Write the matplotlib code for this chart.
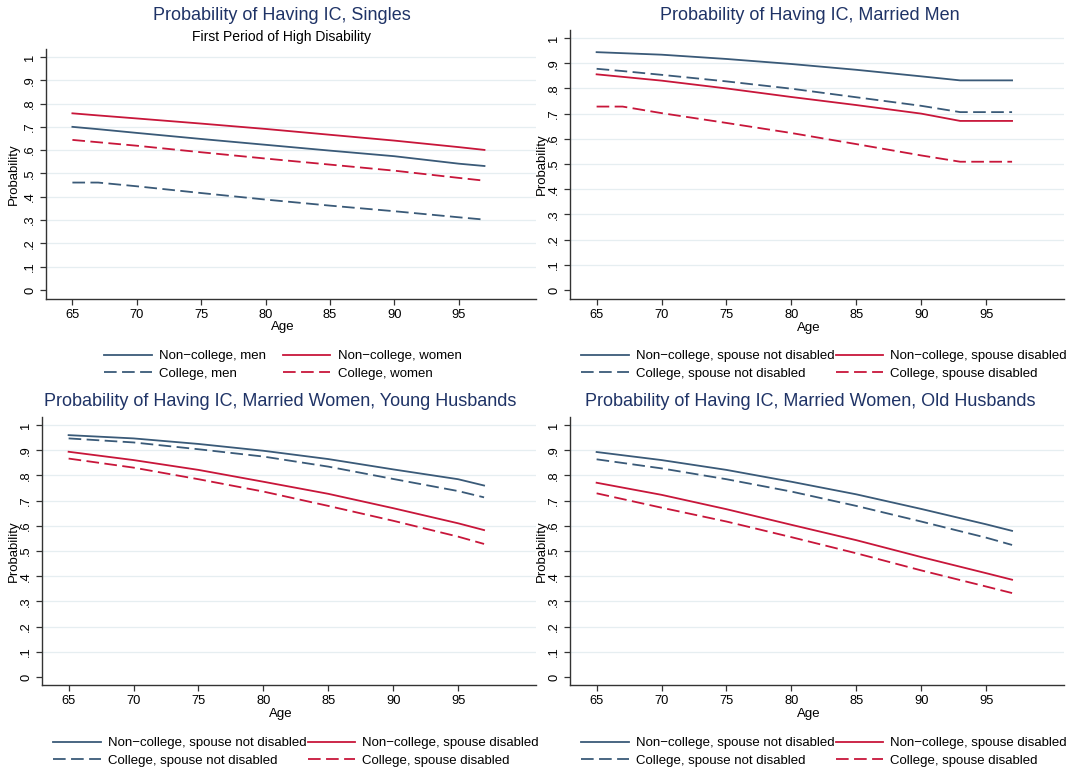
import matplotlib
matplotlib.use("Agg")
import matplotlib.pyplot as plt

plt.rcParams['font.family'] = ['Liberation Sans', 'DejaVu Sans']

NAVY = '#3a5a78'
RED = '#c8163a'
TITLE_C = '#1f3366'

# ---- data ----
ages_singles = [65, 67, 70, 75, 80, 85, 90, 95, 97]
singles_nc_men = [0.700, 0.690, 0.674, 0.648, 0.623, 0.598, 0.574, 0.542, 0.532]
singles_nc_women = [0.758, 0.749, 0.736, 0.714, 0.691, 0.666, 0.641, 0.613, 0.601]
singles_c_men = [0.461, 0.461, 0.445, 0.416, 0.388, 0.362, 0.338, 0.312, 0.302]
singles_c_women = [0.644, 0.634, 0.619, 0.591, 0.564, 0.538, 0.512, 0.481, 0.469]

ages_men = [65, 67, 70, 75, 80, 85, 90, 93, 95, 97]
men_nc_notdis = [0.944, 0.940, 0.934, 0.917, 0.897, 0.874, 0.848, 0.832, 0.832, 0.832]
men_nc_dis = [0.856, 0.846, 0.831, 0.800, 0.766, 0.734, 0.700, 0.671, 0.671, 0.671]
men_c_notdis = [0.878, 0.869, 0.854, 0.828, 0.799, 0.765, 0.731, 0.706, 0.706, 0.706]
men_c_dis = [0.728, 0.728, 0.702, 0.663, 0.623, 0.579, 0.534, 0.509, 0.509, 0.509]

ages_women = [65, 70, 75, 80, 85, 90, 95, 97]
young_nc_notdis = [0.960, 0.947, 0.925, 0.898, 0.865, 0.824, 0.785, 0.760]
young_nc_dis = [0.894, 0.861, 0.822, 0.775, 0.727, 0.670, 0.610, 0.583]
young_c_notdis = [0.947, 0.931, 0.904, 0.875, 0.835, 0.786, 0.738, 0.713]
young_c_dis = [0.867, 0.831, 0.785, 0.736, 0.679, 0.620, 0.557, 0.528]

old_nc_notdis = [0.893, 0.861, 0.822, 0.775, 0.725, 0.667, 0.606, 0.580]
old_nc_dis = [0.771, 0.723, 0.666, 0.604, 0.543, 0.476, 0.412, 0.386]
old_c_notdis = [0.864, 0.828, 0.785, 0.736, 0.679, 0.617, 0.553, 0.524]
old_c_dis = [0.729, 0.672, 0.617, 0.555, 0.491, 0.423, 0.359, 0.333]

xticks = [65, 70, 75, 80, 85, 90, 95]
yticks = [0, .1, .2, .3, .4, .5, .6, .7, .8, .9, 1]
ytick_labels = ['0', '.1', '.2', '.3', '.4', '.5', '.6', '.7', '.8', '.9', '1']

labels_singles = ['Non\u2212college, men', 'Non\u2212college, women',
                  'College, men', 'College, women']
labels_married = ['Non\u2212college, spouse not disabled', 'Non\u2212college, spouse disabled',
                  'College, spouse not disabled', 'College, spouse disabled']

W, H = 1068, 771
fig = plt.figure(figsize=(W / 100, H / 100), dpi=100)


def px_axes(l, t, r, b):
    return fig.add_axes([l / W, 1 - b / H, (r - l) / W, (b - t) / H])


def style(ax, ylo, yhi):
    ax.set_xlim(62.95, 101)
    ax.set_ylim(ylo, yhi)
    for s in ['top', 'right']:
        ax.spines[s].set_visible(False)
    for s in ['left', 'bottom']:
        ax.spines[s].set_color('#333333')
        ax.spines[s].set_linewidth(1.0)
    ax.set_xticks(xticks)
    ax.set_yticks(yticks)
    ax.set_yticklabels(ytick_labels, rotation=90, va='center')
    ax.tick_params(axis='both', length=4, width=0.9, color='#333333',
                   labelsize=9.3, pad=3)
    for y in yticks[1:]:
        ax.axhline(y, color='#e6eef1', lw=0.9, zorder=0)
    ax.set_xlabel('Age', fontsize=9.5)
    ax.set_ylabel('Probability', fontsize=9.5)


def draw(ax, ages, series, labels, colspace, anchor):
    styles = [(NAVY, '-'), (RED, '-'), (NAVY, '--'), (RED, '--')]
    handles = []
    for vals, (c, ls), lab in zip(series, styles, labels):
        if ls == '--':
            h, = ax.plot(ages, vals, color=c, lw=1.3, dashes=(7, 3), label=lab)
        else:
            h, = ax.plot(ages, vals, color=c, lw=1.3, label=lab)
        handles.append(h)
    order = [handles[0], handles[2], handles[1], handles[3]]
    fig.legend(handles=order, labels=[h.get_label() for h in order], ncol=2,
               loc='upper left', bbox_to_anchor=(anchor[0] / W, 1 - anchor[1] / H),
               frameon=False, fontsize=9.5, handlelength=3.6, handletextpad=0.55,
               columnspacing=colspace, labelspacing=0.42, borderpad=0, borderaxespad=0)


# top-left: singles
ax1 = px_axes(46, 49, 536, 299)
style(ax1, -0.0386, 1.034)
draw(ax1, ages_singles, [singles_nc_men, singles_nc_women, singles_c_men, singles_c_women],
     labels_singles, 1.3, (104, 350))
ax1.yaxis.set_label_coords(-0.053, 0.5)
ax1.xaxis.set_label_coords(0.483, -0.09)

# top-right: married men
ax2 = px_axes(570, 30, 1064, 299)
style(ax2, -0.036, 1.032)
draw(ax2, ages_men, [men_nc_notdis, men_nc_dis, men_c_notdis, men_c_dis],
     labels_married, 0.1, (581, 350))
ax2.yaxis.set_label_coords(-0.045, 0.5)
ax2.xaxis.set_label_coords(0.483, -0.085)

# bottom-left: married women, young husbands
ax3 = px_axes(42, 417, 536, 685)
style(ax3, -0.032, 1.032)
draw(ax3, ages_women, [young_nc_notdis, young_nc_dis, young_c_notdis, young_c_dis],
     labels_married, 0.1, (53, 737))
ax3.yaxis.set_label_coords(-0.045, 0.5)
ax3.xaxis.set_label_coords(0.483, -0.085)

# bottom-right: married women, old husbands
ax4 = px_axes(570, 417, 1064, 685)
style(ax4, -0.032, 1.032)
draw(ax4, ages_women, [old_nc_notdis, old_nc_dis, old_c_notdis, old_c_dis],
     labels_married, 0.1, (581, 737))
ax4.yaxis.set_label_coords(-0.045, 0.5)
ax4.xaxis.set_label_coords(0.483, -0.085)

# titles
fig.text(282 / W, 1 - 16 / H, 'Probability of Having IC, Singles', ha='center', va='center',
         fontsize=13, color=TITLE_C)
fig.text(282 / W, 1 - 37 / H, 'First Period of High Disability', ha='center', va='center',
         fontsize=10, color='black')
fig.text(810 / W, 1 - 16 / H, 'Probability of Having IC, Married Men', ha='center', va='center',
         fontsize=13, color=TITLE_C)
fig.text(280 / W, 1 - 402 / H, 'Probability of Having IC, Married Women, Young Husbands',
         ha='center', va='center', fontsize=13, color=TITLE_C)
fig.text(810 / W, 1 - 402 / H, 'Probability of Having IC, Married Women, Old Husbands',
         ha='center', va='center', fontsize=13, color=TITLE_C)

fig.savefig('out.png', dpi=100, facecolor='white')
